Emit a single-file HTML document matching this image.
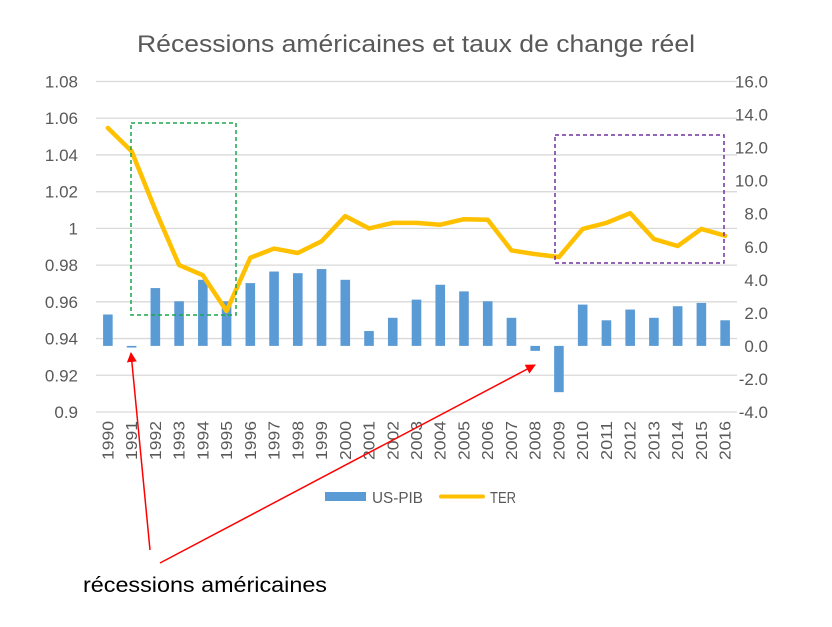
<!DOCTYPE html>
<html><head><meta charset="utf-8"><style>
body{margin:0;background:#fff;width:832px;height:622px;overflow:hidden;font-family:"Liberation Sans",sans-serif}
</style></head><body>
<svg id="c" width="832" height="622" xmlns="http://www.w3.org/2000/svg">
<text x="137" y="52" font-size="24" textLength="558" lengthAdjust="spacingAndGlyphs" fill="#595959">Récessions américaines et taux de change réel</text>
<g id="grid"></g><g id="bars"></g><g id="line"></g><g id="axes"></g>
<rect x="131" y="123" width="105" height="192" fill="none" stroke="#1aa64a" stroke-width="1.5" stroke-dasharray="4,3"/>
<rect x="555" y="135" width="169" height="128" fill="none" stroke="#7030a0" stroke-width="1.5" stroke-dasharray="4,3"/>
<g>
<rect x="325" y="492" width="41" height="9" fill="#5b9bd5"/>
<text x="372" y="503" font-size="16" textLength="51" lengthAdjust="spacingAndGlyphs" fill="#595959">US-PIB</text>
<line x1="441" y1="496.5" x2="483" y2="496.5" stroke="#ffc000" stroke-width="4" stroke-linecap="round"/>
<text x="490" y="503" font-size="16" textLength="26" lengthAdjust="spacingAndGlyphs" fill="#595959">TER</text>
</g>
<defs><marker id="ah" markerWidth="10" markerHeight="10" refX="9" refY="5" orient="auto" markerUnits="userSpaceOnUse"><path d="M0,0 L10,5 L0,10 z" fill="#ff0000"/></marker></defs>
<line x1="150" y1="550" x2="131" y2="353" stroke="#ff0000" stroke-width="1.5" marker-end="url(#ah)"/>
<line x1="160" y1="563" x2="535" y2="365" stroke="#ff0000" stroke-width="1.5" marker-end="url(#ah)"/>
<text x="83" y="592" font-size="21" textLength="244" lengthAdjust="spacingAndGlyphs" fill="#000">récessions américaines</text>
</svg>
<script>
const years=[1990,1991,1992,1993,1994,1995,1996,1997,1998,1999,2000,2001,2002,2003,2004,2005,2006,2007,2008,2009,2010,2011,2012,2013,2014,2015,2016];
const pib=[1.9,-0.1,3.5,2.7,4.0,2.7,3.8,4.5,4.4,4.65,4.0,0.9,1.7,2.8,3.7,3.3,2.7,1.7,-0.3,-2.8,2.5,1.55,2.2,1.7,2.4,2.6,1.55];
const ter=[1.0547,1.042,1.010,0.980,0.9745,0.955,0.984,0.989,0.9866,0.993,1.0067,1.0,1.003,1.003,1.002,1.005,1.0047,0.988,0.986,0.9844,0.9997,1.003,1.0083,0.9942,0.9904,0.9997,0.996];
const leftTicks=["0.9","0.92","0.94","0.96","0.98","1","1.02","1.04","1.06","1.08"];
const rightTicks=["-4.0","-2.0","0.0","2.0","4.0","6.0","8.0","10.0","12.0","14.0","16.0"];
const NS="http://www.w3.org/2000/svg";
const X0=96,X1=737,Yt=81.5,Yb=412;
const bw=(X1-X0)/years.length;
const xc=i=>X0+bw*(i+0.5);
const yL=v=>Yb-(v-0.9)/(0.18)*(Yb-Yt);
const yR=v=>Yb-(v+4)/20*(Yb-Yt);
function mk(t,a,p){const e=document.createElementNS(NS,t);for(const k in a)e.setAttribute(k,a[k]);p.appendChild(e);return e;}
const grid=document.getElementById('grid'),axes=document.getElementById('axes'),bars=document.getElementById('bars'),line=document.getElementById('line');
leftTicks.forEach(t=>{const y=yL(parseFloat(t));
const g=mk('line',{x1:X0,x2:X1,y1:y,y2:y,stroke:'#d9d9d9','stroke-width':1.3},grid);


const tx=mk('text',{x:78,y:y+6,'text-anchor':'end','font-size':17,fill:'#595959'},axes);tx.textContent=t;

});
rightTicks.forEach(t=>{const y=yR(parseFloat(t));
const tx=mk('text',{x:768,y:y+6,'text-anchor':'end','font-size':17,fill:'#595959'},axes);tx.textContent=t;

});
years.forEach((yr,i)=>{const x=xc(i);
const tx=mk('text',{x:0,y:0,'text-anchor':'end','font-size':16,textLength:39,lengthAdjust:'spacingAndGlyphs',fill:'#595959',transform:`translate(${x+5.5},${421}) rotate(-90)`},axes);tx.textContent=yr;


const v=pib[i],y0=yR(0),y1=yR(v);
const r=mk('rect',{x:x-4.8,width:9.6,y:Math.min(y0,y1),height:Math.max(1,Math.abs(y1-y0)),fill:'#5b9bd5'},bars);

});
const pl=mk('polyline',{points:ter.map((v,i)=>xc(i)+','+yL(v)).join(' '),fill:'none',stroke:'#ffc000','stroke-width':4.5,'stroke-linejoin':'round','stroke-linecap':'round'},line);


</script>
</body></html>
